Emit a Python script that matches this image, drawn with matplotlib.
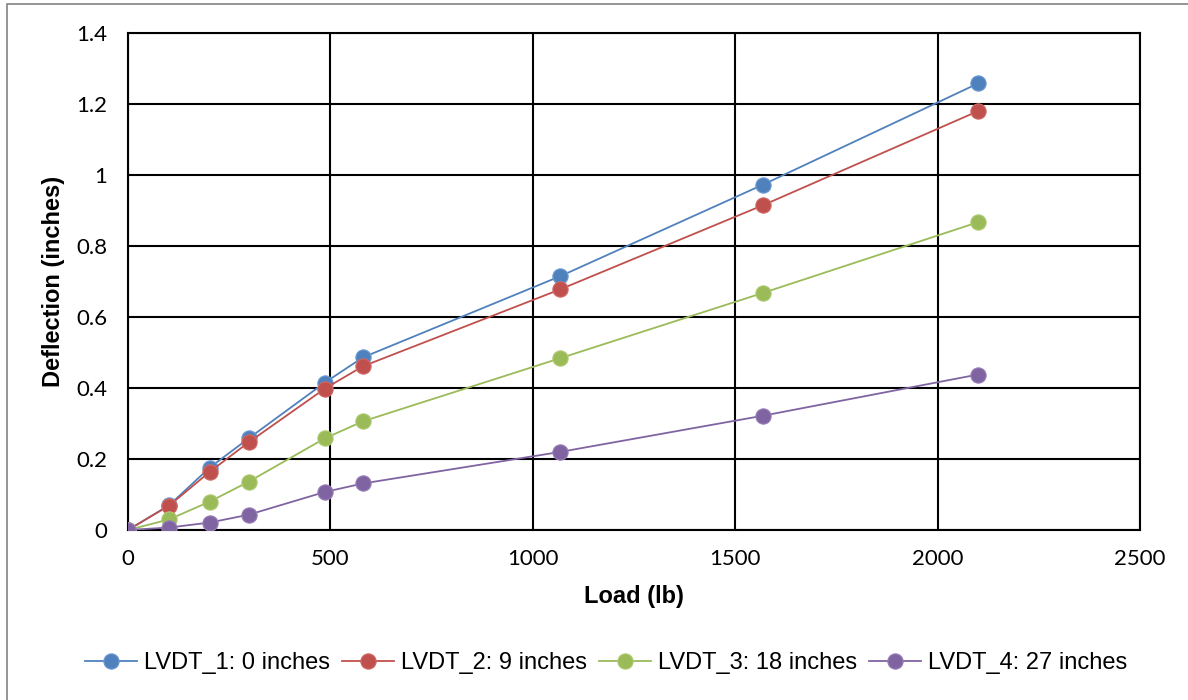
import matplotlib.pyplot as plt
from matplotlib.patches import Rectangle

load = [0, 102, 202, 298, 486, 580, 1068, 1569, 2100]

lvdt_1 = [0, 0.070, 0.176, 0.258, 0.415, 0.486, 0.715, 0.973, 1.258]
lvdt_2 = [0, 0.069, 0.164, 0.247, 0.398, 0.461, 0.678, 0.915, 1.180]
lvdt_3 = [0, 0.030, 0.080, 0.136, 0.258, 0.306, 0.484, 0.668, 0.867]
lvdt_4 = [0, 0.007, 0.021, 0.043, 0.107, 0.131, 0.220, 0.322, 0.438]

names = ['LVDT_1: 0 inches', 'LVDT_2: 9 inches', 'LVDT_3: 18 inches', 'LVDT_4: 27 inches']
colors = ['#4F81BD', '#C0504D', '#9BBB59', '#8064A2']
edges = ['#6F9BD3', '#D06A67', '#AECB73', '#9880B8']

xticks = [0, 500, 1000, 1500, 2000, 2500]
yticks = [0, 0.2, 0.4, 0.6, 0.8, 1.0, 1.2, 1.4]
ylabels = ['0', '0.2', '0.4', '0.6', '0.8', '1', '1.2', '1.4']

fig = plt.figure(figsize=(11.88, 7), dpi=100)
ax = fig.add_axes([128 / 1188, 1 - 530 / 700, (1140 - 128) / 1188, (530 - 33) / 700])

# outer chart border
fig.patches.append(Rectangle((7 / 1188, -0.1), 1.2, 1 - 4 / 700 + 0.1,
                             transform=fig.transFigure, fill=False,
                             edgecolor='#8C8C8C', lw=1.3))

for ys, name, c, e in zip([lvdt_1, lvdt_2, lvdt_3, lvdt_4], names, colors, edges):
    ax.plot(load, ys, color=c, lw=1.3, marker='o', markersize=11,
            markerfacecolor=c, markeredgecolor=e, markeredgewidth=0.8,
            label=name, zorder=3)

ax.set_xlim(0, 2500)
ax.set_ylim(0, 1.4)
ax.set_xticks(xticks)
ax.set_xticklabels([str(v) for v in xticks])
ax.set_yticks(yticks)
ax.set_yticklabels(ylabels)
ax.grid(True, color='black', lw=1.5)
ax.set_axisbelow(True)
for s in ax.spines.values():
    s.set_color('black')
    s.set_linewidth(1.5)
ax.tick_params(length=0, labelsize=16)
ax.tick_params(axis='y', pad=15)
ax.tick_params(axis='x', pad=14)
for lab in ax.get_xticklabels() + ax.get_yticklabels():
    lab.set_family('Lato')

ax.set_xlabel('Load (lb)', family='Liberation Sans', fontsize=17,
              fontweight='bold', labelpad=11)
ax.set_ylabel('Deflection (inches)', family='Liberation Sans', fontsize=17,
              fontweight='bold', labelpad=8)

fig.legend(loc='center', bbox_to_anchor=(606 / 1188, 1 - 663 / 700), ncol=4,
           frameon=False, prop={'family': 'Liberation Sans', 'size': 17},
           handlelength=2.2, handletextpad=0.3, columnspacing=0.5)

fig.savefig('out.png', dpi=100)
